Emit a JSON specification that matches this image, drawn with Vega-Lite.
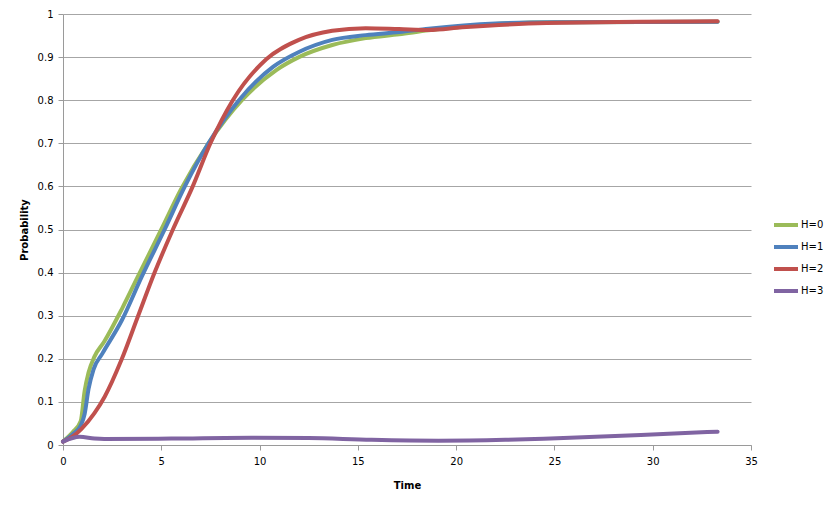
{
  "$schema": "https://vega.github.io/schema/vega-lite/v6.json",
  "autosize": "none",
  "width": 688,
  "height": 431,
  "padding": {"left": 63, "top": 14, "right": 79, "bottom": 62},
  "background": "white",
  "config": {
    "view": {"stroke": null},
    "font": "DejaVu Sans",
    "axis": {"labelFont": "DejaVu Sans", "titleFont": "DejaVu Sans", "labelFontSize": 10, "titleFontSize": 10, "labelColor": "#000000", "titleColor": "#000000", "titleFontWeight": "bold"}
  },
  "data": {"values": [
    {"s": "H=0", "t": 0, "p": 0.008}, {"s": "H=0", "t": 0.5, "p": 0.03}, {"s": "H=0", "t": 0.9, "p": 0.055}, {"s": "H=0", "t": 1.1, "p": 0.125}, {"s": "H=0", "t": 1.3, "p": 0.168}, {"s": "H=0", "t": 1.6, "p": 0.205}, {"s": "H=0", "t": 2.1, "p": 0.24}, {"s": "H=0", "t": 3.0, "p": 0.316}, {"s": "H=0", "t": 3.8, "p": 0.39}, {"s": "H=0", "t": 5.0, "p": 0.5}, {"s": "H=0", "t": 6.0, "p": 0.593}, {"s": "H=0", "t": 7.4, "p": 0.7}, {"s": "H=0", "t": 9.1, "p": 0.8}, {"s": "H=0", "t": 10.85, "p": 0.87}, {"s": "H=0", "t": 12.0, "p": 0.9}, {"s": "H=0", "t": 13.7, "p": 0.928}, {"s": "H=0", "t": 15.4, "p": 0.944}, {"s": "H=0", "t": 17.1, "p": 0.953}, {"s": "H=0", "t": 18.6, "p": 0.962}, {"s": "H=0", "t": 20, "p": 0.969}, {"s": "H=0", "t": 22, "p": 0.977}, {"s": "H=0", "t": 25, "p": 0.981}, {"s": "H=0", "t": 33.3, "p": 0.982},
    {"s": "H=1", "t": 0, "p": 0.008}, {"s": "H=1", "t": 0.5, "p": 0.025}, {"s": "H=1", "t": 0.9, "p": 0.045}, {"s": "H=1", "t": 1.1, "p": 0.072}, {"s": "H=1", "t": 1.3, "p": 0.13}, {"s": "H=1", "t": 1.55, "p": 0.175}, {"s": "H=1", "t": 2.0, "p": 0.212}, {"s": "H=1", "t": 3.0, "p": 0.29}, {"s": "H=1", "t": 4.0, "p": 0.39}, {"s": "H=1", "t": 5.17, "p": 0.5}, {"s": "H=1", "t": 6.2, "p": 0.6}, {"s": "H=1", "t": 7.4, "p": 0.7}, {"s": "H=1", "t": 8.95, "p": 0.8}, {"s": "H=1", "t": 10.7, "p": 0.878}, {"s": "H=1", "t": 12.0, "p": 0.912}, {"s": "H=1", "t": 13.7, "p": 0.94}, {"s": "H=1", "t": 15.4, "p": 0.951}, {"s": "H=1", "t": 17.1, "p": 0.958}, {"s": "H=1", "t": 18.6, "p": 0.966}, {"s": "H=1", "t": 22, "p": 0.978}, {"s": "H=1", "t": 25, "p": 0.981}, {"s": "H=1", "t": 33.3, "p": 0.982},
    {"s": "H=2", "t": 0, "p": 0.008}, {"s": "H=2", "t": 0.5, "p": 0.02}, {"s": "H=2", "t": 0.93, "p": 0.037}, {"s": "H=2", "t": 1.6, "p": 0.074}, {"s": "H=2", "t": 2.12, "p": 0.112}, {"s": "H=2", "t": 2.97, "p": 0.197}, {"s": "H=2", "t": 3.81, "p": 0.298}, {"s": "H=2", "t": 4.66, "p": 0.4}, {"s": "H=2", "t": 5.59, "p": 0.5}, {"s": "H=2", "t": 6.6, "p": 0.6}, {"s": "H=2", "t": 7.5, "p": 0.7}, {"s": "H=2", "t": 8.64, "p": 0.8}, {"s": "H=2", "t": 10.34, "p": 0.895}, {"s": "H=2", "t": 12.0, "p": 0.94}, {"s": "H=2", "t": 13.7, "p": 0.961}, {"s": "H=2", "t": 15.4, "p": 0.967}, {"s": "H=2", "t": 17.1, "p": 0.965}, {"s": "H=2", "t": 18.6, "p": 0.963}, {"s": "H=2", "t": 20.3, "p": 0.969}, {"s": "H=2", "t": 24.6, "p": 0.979}, {"s": "H=2", "t": 33.3, "p": 0.983},
    {"s": "H=3", "t": 0, "p": 0.008}, {"s": "H=3", "t": 0.85, "p": 0.019}, {"s": "H=3", "t": 1.6, "p": 0.015}, {"s": "H=3", "t": 2.1, "p": 0.014}, {"s": "H=3", "t": 5.5, "p": 0.015}, {"s": "H=3", "t": 9.6, "p": 0.017}, {"s": "H=3", "t": 12.5, "p": 0.016}, {"s": "H=3", "t": 15.7, "p": 0.012}, {"s": "H=3", "t": 19.1, "p": 0.01}, {"s": "H=3", "t": 22.5, "p": 0.012}, {"s": "H=3", "t": 24.8, "p": 0.015}, {"s": "H=3", "t": 29.4, "p": 0.023}, {"s": "H=3", "t": 33.3, "p": 0.031}
  ]},
  "mark": {"type": "line", "strokeWidth": 4, "interpolate": "monotone", "strokeCap": "round"},
  "encoding": {
    "x": {"field": "t", "type": "quantitative", "title": "Time",
      "scale": {"domain": [0, 35], "nice": false, "zero": false},
      "axis": {"values": [0, 5, 10, 15, 20, 25, 30, 35], "grid": false, "domainColor": "#9a9a9a", "tickColor": "#9a9a9a", "tickSize": 5, "labelPadding": 6, "titlePadding": 14, "labelFlush": false}},
    "y": {"field": "p", "type": "quantitative", "title": "Probability",
      "scale": {"domain": [0, 1], "nice": false},
      "axis": {"values": [0, 0.1, 0.2, 0.3, 0.4, 0.5, 0.6, 0.7, 0.8, 0.9, 1], "format": ".1~f", "grid": true, "gridColor": "#a6a6a6", "gridWidth": 1, "domainColor": "#9a9a9a", "tickColor": "#9a9a9a", "tickSize": 5, "labelPadding": 5, "titlePadding": 8, "labelFlush": false}},
    "color": {"field": "s", "type": "nominal",
      "scale": {"domain": ["H=0", "H=1", "H=2", "H=3"], "range": ["#9BBB59", "#4F81BD", "#C0504D", "#8064A2"]},
      "legend": {"title": null, "orient": "none", "legendX": 709, "legendY": 197, "symbolType": "stroke", "symbolSize": 576, "symbolStrokeWidth": 4, "labelFontSize": 10, "labelFont": "DejaVu Sans", "labelColor": "#000000", "labelOffset": 1, "rowPadding": -5.2}
    }
  }
}
